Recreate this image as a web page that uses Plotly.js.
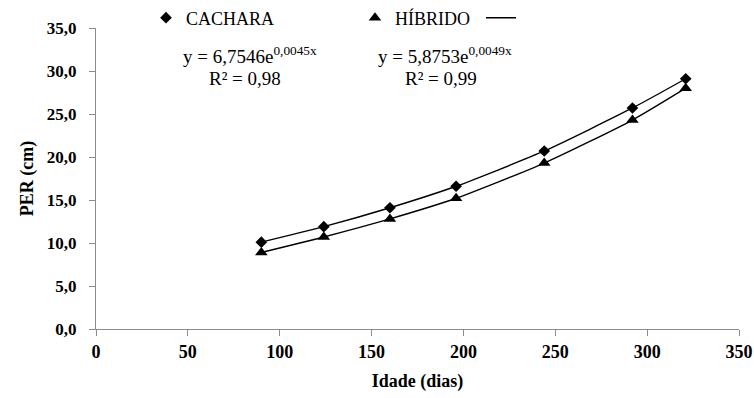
<!DOCTYPE html>
<html>
<head>
<meta charset="utf-8">
<script src="https://cdn.plot.ly/plotly-3.0.1.min.js"></script>
<style>html,body{margin:0;padding:0;background:#fff;}#chart{width:754px;height:398px;}</style>
</head>
<body>
<div id="chart"></div>
<script>
const idade = [90, 124, 160, 196, 244, 292, 321];
const cachara = [10.1, 11.9, 14.1, 16.6, 20.7, 25.7, 29.1];
const hibrido = [8.9, 10.7, 12.8, 15.2, 19.3, 24.3, 28.0];
const seriesNames = ['CACHARA', 'HÍBRIDO'];
const eqCachara = 'y = 6,7546e<sup>0,0045x</sup>';
const r2Cachara = 'R² = 0,98';
const eqHibrido = 'y = 5,8753e<sup>0,0049x</sup>';
const r2Hibrido = 'R² = 0,99';
const xTicks = [0, 50, 100, 150, 200, 250, 300, 350];
const yTicks = [0, 5, 10, 15, 20, 25, 30, 35];

const serif = 'Liberation Serif, Times New Roman, serif';

const traces = [
  {x: idade, y: cachara, mode: 'markers', name: seriesNames[0], legend: 'legend',
   marker: {symbol: 'diamond', size: 9, color: '#000'}},
  {x: idade, y: hibrido, mode: 'markers', name: seriesNames[1], legend: 'legend2',
   marker: {symbol: 'triangle-up', size: 11, color: '#000'}},
  {x: idade, y: cachara, mode: 'lines', name: '\u00a0', showlegend: true, legend: 'legend3',
   line: {color: '#000', width: 1.4, shape: 'spline', smoothing: 0.6}},
  {x: idade, y: hibrido, mode: 'lines', name: '\u00a0', showlegend: false,
   line: {color: '#000', width: 1.4, shape: 'spline', smoothing: 0.6}}
];

function legAt(px) {
  return {orientation: 'h', x: (px - 96) / 643, xanchor: 'left', y: 1 + 10 / 301, yanchor: 'middle',
          font: {family: serif, size: 18, color: '#000'}, bgcolor: 'rgba(0,0,0,0)', itemwidth: 30, borderwidth: 0};
}

const layout = {
  width: 754, height: 398,
  margin: {l: 96, r: 15, t: 28, b: 69, autoexpand: false},
  paper_bgcolor: '#fff', plot_bgcolor: '#fff',
  separators: ',.',
  font: {family: serif, color: '#000', size: 17},
  showlegend: true,
  legend: legAt(146),
  legend2: legAt(355),
  legend3: legAt(481),
  xaxis: {range: [0, 350], tickvals: xTicks, showgrid: false, zeroline: false,
          showline: true, linecolor: '#8c8c8c', linewidth: 1,
          ticks: 'outside', ticklen: 6, tickcolor: '#8c8c8c',
          tickfont: {family: serif, size: 18, color: '#000', weight: 'bold'},
          title: {text: 'Idade (dias)', font: {family: serif, size: 18, color: '#000', weight: 'bold'}, standoff: 13}},
  yaxis: {range: [0, 35], tickvals: yTicks, tickformat: '.1f', showgrid: false, zeroline: false,
          showline: true, linecolor: '#8c8c8c', linewidth: 1,
          ticks: 'outside', ticklen: 6, tickcolor: '#8c8c8c', ticklabelstandoff: 9,
          tickfont: {family: serif, size: 17, color: '#000', weight: 'bold'},
          title: {text: 'PER (cm)', font: {family: serif, size: 18, color: '#000', weight: 'bold'}, standoff: 8}},
  annotations: [
    {xref: 'paper', yref: 'paper', x: (250-96)/643, y: (329-55)/301, text: eqCachara, showarrow: false,
     font: {family: serif, size: 19, color: '#000'}, xanchor: 'center', yanchor: 'middle'},
    {xref: 'paper', yref: 'paper', x: (245-96)/643, y: (329-78)/301, text: r2Cachara, showarrow: false,
     font: {family: serif, size: 19, color: '#000'}, xanchor: 'center', yanchor: 'middle'},
    {xref: 'paper', yref: 'paper', x: (445-96)/643, y: (329-55)/301, text: eqHibrido, showarrow: false,
     font: {family: serif, size: 19, color: '#000'}, xanchor: 'center', yanchor: 'middle'},
    {xref: 'paper', yref: 'paper', x: (441-96)/643, y: (329-78)/301, text: r2Hibrido, showarrow: false,
     font: {family: serif, size: 19, color: '#000'}, xanchor: 'center', yanchor: 'middle'}
  ]
};

Plotly.newPlot('chart', traces, layout, {displayModeBar: false, staticPlot: true});
</script>
</body>
</html>
